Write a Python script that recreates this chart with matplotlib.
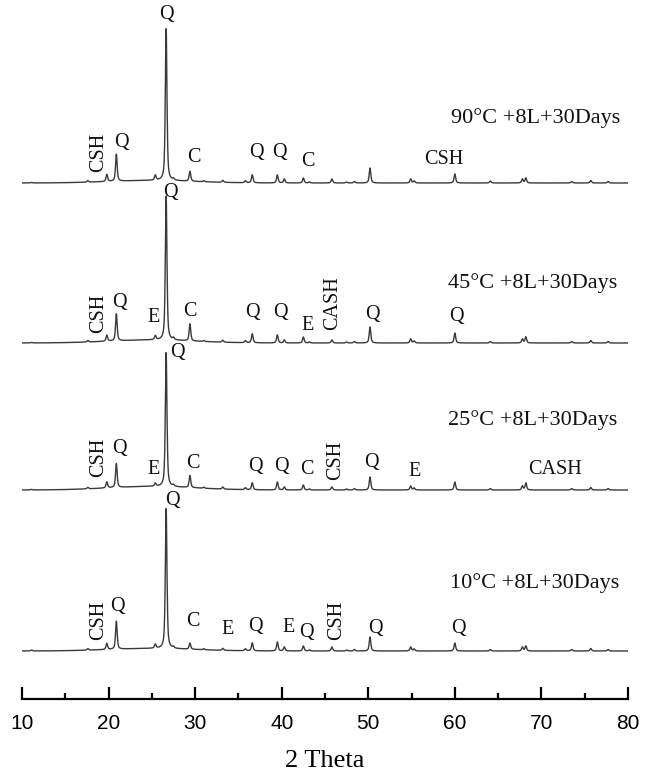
import numpy as np
import matplotlib
matplotlib.use("Agg")
import matplotlib.pyplot as plt

# ---- XRD peak data (2-theta positions and intensities, a.u.) ----
peak_pos = [11.1, 17.6, 19.8, 20.9, 25.4, 26.65, 27.5, 29.4, 31.0, 33.2, 35.8, 36.6,
            39.5, 40.3, 42.5, 43.2, 45.8, 47.5, 48.4, 50.2, 54.9, 55.3, 60.0,
            64.1, 67.8, 68.2, 73.5, 75.7, 77.7]

int_90 = [0.5, 1.5, 7, 27, 5, 153, 1.5, 10, 1, 2, 2, 8,
          8, 4, 5, 1, 4, 1, 1.5, 15, 4, 2, 9,
          2, 4, 5, 1.5, 2.5, 1.5]
int_45 = [0.5, 1.5, 6, 27, 4, 145, 2, 17, 1, 2, 2, 9,
          8, 3, 6, 1, 3, 1, 1.5, 16, 4, 2, 10,
          1.5, 4, 6, 1.5, 2.5, 1.5]
int_25 = [0.5, 1.5, 6, 24, 3, 135, 1.5, 12, 1, 2, 2, 7,
          8, 3, 5, 1, 3, 1, 1.5, 13, 4, 2, 8,
          1.5, 4, 7, 1.5, 2.5, 1.5]
int_10 = [1.0, 1.5, 6, 28, 4, 141, 1.5, 6, 1, 2, 2, 8,
          9, 4, 5, 1, 4, 1, 1.5, 14, 4, 2, 8,
          1.5, 4, 5, 1.5, 2.5, 1.5]

# broad amorphous hump (centre, width, height) per pattern
hump_90 = (25.0, 5.0, 2.5)
hump_45 = (25.0, 5.0, 3.0)
hump_25 = (25.0, 5.0, 3.5)
hump_10 = (25.0, 5.0, 2.5)

offsets = [516, 356, 209, 48]
sample_names = ["90°C +8L+30Days", "45°C +8L+30Days",
                "25°C +8L+30Days", "10°C +8L+30Days"]

# phase labels: (text, 2theta, height above baseline, rotation)
labels_90 = [("CSH", 18.8, 31, 90), ("Q", 21.5, 40, 0), ("Q", 26.7, 168, 0),
             ("C", 29.8, 25, 0), ("Q", 37.1, 30, 0), ("Q", 39.7, 30, 0),
             ("C", 43.0, 21, 0), ("CSH", 58.7, 23, 0)]
labels_45 = [("CSH", 18.9, 30, 90), ("Q", 21.3, 41, 0), ("E", 25.2, 25, 0),
             ("Q", 27.1, 150, 0), ("C", 29.4, 31, 0), ("Q", 36.6, 31, 0),
             ("Q", 39.9, 31, 0), ("E", 43.0, 18, 0), ("CASH", 45.9, 40, 90),
             ("Q", 50.5, 28, 0), ("Q", 60.2, 26, 0)]
labels_25 = [("CSH", 18.9, 33, 90), ("Q", 21.2, 42, 0), ("E", 25.2, 20, 0),
             ("Q", 28.0, 138, 0), ("C", 29.7, 27, 0), ("Q", 37.0, 23, 0),
             ("Q", 40.0, 23, 0), ("C", 42.9, 20, 0), ("CSH", 46.2, 30, 90),
             ("Q", 50.4, 27, 0), ("E", 55.4, 18, 0), ("CASH", 71.6, 20, 0)]
labels_10 = [("CSH", 18.9, 31, 90), ("Q", 21.0, 44, 0), ("Q", 27.4, 151, 0),
             ("C", 29.7, 29, 0), ("E", 33.8, 21, 0), ("Q", 37.0, 24, 0),
             ("E", 40.8, 24, 0), ("Q", 42.9, 19, 0), ("CSH", 46.4, 31, 90),
             ("Q", 50.8, 23, 0), ("Q", 60.4, 23, 0)]

name_pos = [(69.3, 65), (69.0, 60), (69.0, 70), (69.2, 68)]

intensities = [int_90, int_45, int_25, int_10]
humps = [hump_90, hump_45, hump_25, hump_10]
all_labels = [labels_90, labels_45, labels_25, labels_10]


def pattern(x, heights, hump, fwhm=0.22, eta=0.6):
    y = np.zeros_like(x)
    for p, h in zip(peak_pos, heights):
        g = np.exp(-4 * np.log(2) * ((x - p) / fwhm) ** 2)
        lo = 1.0 / (1.0 + 4 * ((x - p) / fwhm) ** 2)
        y += h * (eta * lo + (1 - eta) * g)
    c, w, a = hump
    y += a * np.exp(-0.5 * ((x - c) / w) ** 2)
    return y


serif = ["Liberation Serif", "DejaVu Serif"]
sans = ["Liberation Sans", "DejaVu Sans"]

W, H = 652, 778
fig = plt.figure(figsize=(W / 100, H / 100), dpi=100)
ax = fig.add_axes([22 / W, (H - 699) / H, 606 / W, 699 / H])

x = np.arange(10.0, 80.0001, 0.02)
for heights, hump, off, labs, name, npos in zip(intensities, humps, offsets,
                                                 all_labels, sample_names, name_pos):
    ax.plot(x, pattern(x, heights, hump) + off, color="#3a3a3a", lw=1.0)
    for t, px, py, rot in labs:
        ax.text(px, off + py, t, rotation=rot, ha="center", va="center",
                fontsize=14.5, family=serif, color="#111111")
    ax.text(npos[0], off + npos[1], name, ha="center", va="center",
            fontsize=16, family=serif, color="#111111")

ax.set_xlim(10, 80)
ax.set_ylim(0, 699)
for s in ["top", "right", "left"]:
    ax.spines[s].set_visible(False)
ax.spines["bottom"].set_linewidth(1.6)
ax.set_yticks([])
ax.set_xticks(np.arange(10, 81, 10))
ax.set_xticks(np.arange(15, 80, 10), minor=True)
ax.tick_params(axis="x", which="major", direction="in", length=9, width=1.6,
               pad=11, labelsize=15)
ax.tick_params(axis="x", which="minor", direction="in", length=4.5, width=1.6)
for lab in ax.get_xticklabels():
    lab.set_family(sans)
ax.set_xlabel("2 Theta", fontsize=19, family=serif, labelpad=12)
ax.patch.set_alpha(0)

fig.savefig("out.png", dpi=100)
